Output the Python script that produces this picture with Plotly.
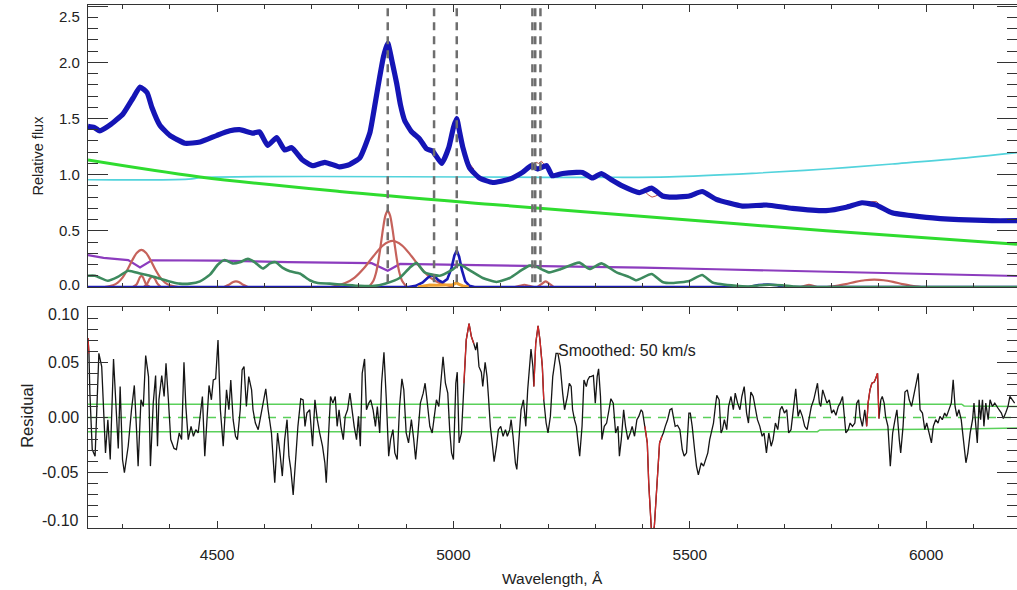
import plotly.graph_objects as go

# ---------------------------------------------------------------- data
wave_range = [4227, 6192]
wave_major = [4500, 5000, 5500, 6000]
flux_ticks = [0.0, 0.5, 1.0, 1.5, 2.0, 2.5]
resid_ticks = [0.10, 0.05, 0.00, -0.05, -0.10]

# emission-line centres marked by dashed lines (Angstrom)
line_centres = [4861, 4959, 5007, 5167, 5173, 5184]

# total model fit (wavelength, relative flux)
model_fit = [
    (4227, 1.43), (4240, 1.42), (4252, 1.39), (4273, 1.44), (4301, 1.54), (4322, 1.68),
    (4337, 1.78), (4352, 1.73), (4362, 1.60), (4379, 1.44), (4400, 1.35), (4432, 1.28),
    (4464, 1.29), (4500, 1.35), (4527, 1.39), (4548, 1.40), (4576, 1.37), (4590, 1.38),
    (4607, 1.26), (4626, 1.33), (4643, 1.22), (4658, 1.24), (4681, 1.13), (4702, 1.08),
    (4728, 1.11), (4759, 1.07), (4780, 1.09), (4802, 1.15), (4823, 1.37), (4833, 1.60),
    (4844, 1.87), (4852, 2.05), (4861, 2.17), (4871, 1.99), (4880, 1.81), (4888, 1.62),
    (4897, 1.48), (4912, 1.38), (4928, 1.32), (4943, 1.23), (4956, 1.21), (4975, 1.10),
    (4990, 1.24), (5000, 1.42), (5007, 1.50), (5013, 1.38), (5020, 1.24), (5034, 1.06),
    (5055, 0.97), (5083, 0.93), (5119, 0.96), (5146, 1.02), (5165, 1.08), (5178, 1.05),
    (5197, 1.08), (5209, 0.99), (5231, 1.01), (5260, 1.02), (5273, 1.02), (5294, 0.97),
    (5313, 1.01), (5336, 0.95), (5357, 0.90), (5393, 0.84), (5419, 0.88), (5442, 0.81),
    (5457, 0.80), (5499, 0.81), (5526, 0.85), (5556, 0.78), (5611, 0.72), (5662, 0.73),
    (5717, 0.70), (5788, 0.68), (5831, 0.71), (5864, 0.75), (5894, 0.73), (5928, 0.66),
    (6000, 0.62), (6069, 0.60), (6139, 0.59), (6192, 0.59),
]

# observed flux inside masked windows
observed_masked = [
    [(5021, 1.18), (5030, 1.12), (5043, 1.05)],
    [(5168, 1.09), (5175, 1.11), (5180, 1.10), (5186, 1.12), (5192, 1.09)],
    [(5405, 0.85), (5412, 0.82), (5420, 0.80), (5428, 0.81), (5440, 0.84)],
    [(5874, 0.75), (5885, 0.76), (5895, 0.76), (5900, 0.74)],
]

host_galaxy = [
    (4227, 0.955), (4440, 0.96), (4470, 0.975), (5300, 0.976), (5457, 0.98),
    (5647, 1.015), (5788, 1.05), (5928, 1.095), (6060, 1.14), (6192, 1.196),
]

power_law = [
    (4227, 1.13), (4464, 0.98), (4759, 0.85), (5097, 0.73), (5457, 0.61),
    (5788, 0.50), (6192, 0.38),
]

balmer_cont = [
    (4227, 0.283), (4260, 0.26), (4312, 0.24), (4337, 0.175), (4362, 0.238),
    (4502, 0.235), (4650, 0.222), (4827, 0.212), (4861, 0.145), (4887, 0.205),
    (5050, 0.195), (5214, 0.187), (5400, 0.172), (5556, 0.158), (5750, 0.14),
    (5907, 0.128), (6050, 0.112), (6192, 0.098),
]

fe_ii = [
    (4227, 0.10), (4242, 0.10), (4269, 0.055), (4290, 0.09), (4312, 0.145), (4337, 0.12),
    (4358, 0.10), (4379, 0.075), (4404, 0.045), (4421, 0.03), (4442, 0.03), (4464, 0.05),
    (4485, 0.11), (4502, 0.20), (4516, 0.24), (4533, 0.21), (4548, 0.22), (4565, 0.25),
    (4580, 0.22), (4597, 0.165), (4612, 0.21), (4624, 0.22), (4639, 0.17), (4654, 0.14),
    (4675, 0.12), (4696, 0.06), (4713, 0.035), (4738, 0.03), (4770, 0.02), (4802, 0.01),
    (4833, 0.01), (4855, 0.03), (4886, 0.08), (4907, 0.17), (4922, 0.215), (4939, 0.13),
    (4971, 0.10), (4996, 0.15), (5013, 0.20), (5034, 0.15), (5062, 0.08), (5091, 0.045),
    (5119, 0.08), (5144, 0.15), (5161, 0.19), (5176, 0.18), (5188, 0.155), (5203, 0.13),
    (5224, 0.155), (5266, 0.217), (5288, 0.16), (5313, 0.21), (5345, 0.13), (5372, 0.088),
    (5387, 0.06), (5419, 0.115), (5442, 0.045), (5463, 0.035), (5499, 0.054), (5526, 0.107),
    (5548, 0.04), (5598, 0.01), (5626, 0.005), (5647, 0.015), (5668, 0.02), (5695, 0.015),
    (5721, 0.003), (5773, 0.0), (6192, 0.0),
]

# broad / permitted line components
hg_broad = [(4262, 0.0), (4280, 0.015), (4290, 0.038), (4300, 0.083), (4310, 0.151),
            (4320, 0.233), (4330, 0.303), (4340, 0.33), (4350, 0.303), (4360, 0.233),
            (4370, 0.151), (4380, 0.083), (4390, 0.038), (4400, 0.015), (4418, 0.0)]
hg_narrow = [(4322, 0.0), (4330, 0.025), (4334, 0.06), (4337, 0.088), (4340, 0.10),
             (4343, 0.088), (4346, 0.06), (4350, 0.025), (4358, 0.0)]
line_4363 = [(4345, 0.0), (4352, 0.03), (4358, 0.075), (4363, 0.09), (4368, 0.075),
             (4374, 0.03), (4381, 0.0)]
line_4540 = [(4515, 0.0), (4525, 0.02), (4533, 0.043), (4540, 0.05), (4547, 0.043),
             (4555, 0.02), (4565, 0.0)]
hb_narrow = [(4821, 0.0), (4831, 0.058), (4836, 0.122), (4841, 0.227), (4846, 0.367),
             (4851, 0.517), (4856, 0.635), (4861, 0.68), (4866, 0.635), (4871, 0.517),
             (4876, 0.367), (4881, 0.227), (4886, 0.122), (4891, 0.058), (4901, 0.0)]
hb_broad = [(4741, 0.0), (4771, 0.035), (4791, 0.084), (4811, 0.169), (4831, 0.276),
            (4851, 0.371), (4871, 0.41), (4891, 0.371), (4911, 0.276), (4931, 0.169),
            (4951, 0.084), (4971, 0.035), (5001, 0.0)]
line_5150 = [(5130, 0.0), (5140, 0.01), (5150, 0.02), (5160, 0.01), (5170, 0.0)]
line_5195 = [(5178, 0.0), (5186, 0.025), (5195, 0.05), (5204, 0.025), (5212, 0.0)]
line_5752 = [(5735, 0.0), (5745, 0.012), (5752, 0.02), (5759, 0.012), (5769, 0.0)]
hei_5876 = [(5790, 0.0), (5810, 0.01), (5830, 0.026), (5850, 0.045), (5870, 0.06),
            (5890, 0.065), (5910, 0.06), (5930, 0.045), (5950, 0.026), (5970, 0.01),
            (5990, 0.0)]

# forbidden [O III] doublet component
oiii_lines = [
    (4227, 0.0), (4905, 0.0), (4920, 0.01), (4935, 0.04), (4945, 0.08), (4953, 0.105),
    (4960, 0.095), (4968, 0.06), (4977, 0.04), (4987, 0.07), (4996, 0.17), (5002, 0.28),
    (5007, 0.325), (5012, 0.27), (5018, 0.15), (5025, 0.05), (5034, 0.01), (5045, 0.0),
    (5625, 0.0), (5645, 0.018), (5665, 0.022), (5685, 0.015), (5700, 0.0), (6192, 0.0),
]

oiii_wing = [(4925, 0.0), (4937, 0.01), (4950, 0.018), (4965, 0.015), (4985, 0.015),
             (4998, 0.02), (5003, 0.03), (5007, 0.038), (5011, 0.025), (5020, 0.01),
             (5032, 0.0)]

# smoothed residual (data - model)
residual = [
    (4227, 0.072), (4229, 0.058), (4231, 0.022), (4236, -0.029), (4242, -0.035), (4250, 0.058),
    (4256, 0.046), (4259, 0.013), (4264, -0.032), (4269, -0.002), (4274, -0.038), (4281, 0.053),
    (4286, 0.016), (4291, -0.028), (4295, 0.028), (4300, -0.038), (4304, -0.050), (4312, -0.026),
    (4319, 0.007), (4325, 0.029), (4330, -0.014), (4333, -0.044), (4339, 0.016), (4344, 0.010),
    (4349, 0.056), (4355, 0.037), (4359, -0.044), (4365, 0.013), (4370, 0.038), (4374, -0.026),
    (4377, 0.016), (4383, 0.038), (4388, 0.019), (4392, 0.049), (4397, 0.016), (4402, -0.020),
    (4409, -0.028), (4414, -0.029), (4420, -0.014), (4425, -0.020), (4430, 0.050), (4434, 0.010),
    (4439, -0.020), (4445, -0.008), (4450, -0.017), (4455, -0.011), (4460, -0.014), (4469, 0.019),
    (4474, -0.035), (4479, 0.004), (4483, 0.029), (4488, 0.016), (4492, 0.034), (4497, 0.035),
    (4502, 0.070), (4507, 0.007), (4513, -0.026), (4520, 0.025), (4525, 0.007), (4529, 0.034),
    (4534, -0.002), (4539, -0.017), (4543, -0.020), (4549, 0.007), (4553, 0.043), (4557, 0.046),
    (4562, 0.010), (4567, 0.037), (4573, 0.025), (4576, 0.007), (4581, -0.005), (4587, -0.011),
    (4594, 0.007), (4599, 0.019), (4603, 0.026), (4608, 0.007), (4615, -0.014), (4622, -0.059),
    (4628, -0.014), (4633, -0.032), (4638, -0.053), (4643, -0.020), (4648, -0.002), (4652, -0.035),
    (4656, -0.047), (4661, -0.070), (4666, -0.038), (4671, -0.008), (4677, 0.017), (4682, 0.016),
    (4686, -0.008), (4690, 0.004), (4696, 0.007), (4702, -0.026), (4707, 0.016), (4712, -0.002),
    (4717, -0.014), (4723, -0.026), (4728, -0.041), (4731, -0.059), (4736, -0.014), (4740, 0.019),
    (4745, 0.013), (4750, 0.019), (4754, -0.008), (4758, 0.007), (4762, -0.008), (4767, -0.020),
    (4771, 0.001), (4776, 0.007), (4781, 0.022), (4786, 0.004), (4790, -0.008), (4795, -0.020),
    (4799, 0.001), (4803, -0.026), (4807, 0.040), (4812, 0.053), (4816, 0.007), (4821, 0.013),
    (4825, 0.016), (4830, 0.007), (4835, -0.008), (4839, 0.010), (4844, -0.014), (4848, 0.031),
    (4853, 0.059), (4858, 0.016), (4863, -0.035), (4867, -0.020), (4872, -0.011), (4876, -0.032),
    (4881, -0.038), (4886, 0.010), (4891, 0.035), (4895, 0.025), (4900, -0.014), (4905, -0.023),
    (4911, -0.002), (4916, -0.020), (4920, -0.038), (4925, -0.014), (4930, 0.013), (4936, 0.022),
    (4940, 0.031), (4944, 0.016), (4950, -0.008), (4955, -0.014), (4960, 0.004), (4964, 0.016),
    (4969, 0.010), (4972, 0.028), (4978, 0.055), (4983, 0.031), (4988, 0.022), (4992, -0.011),
    (4996, -0.032), (5000, -0.038), (5005, 0.031), (5008, 0.041), (5012, -0.023), (5017, -0.014),
    (5022, 0.031), (5027, 0.070), (5033, 0.085), (5038, 0.073), (5043, 0.067), (5047, 0.061),
    (5050, 0.068), (5054, 0.046), (5059, 0.041), (5062, 0.028), (5067, 0.050), (5071, 0.037),
    (5074, 0.019), (5078, -0.008), (5082, -0.023), (5086, -0.040), (5091, -0.026), (5095, -0.011),
    (5100, -0.008), (5105, -0.017), (5110, -0.011), (5114, -0.017), (5119, -0.011), (5122, -0.002),
    (5126, -0.017), (5131, -0.041), (5134, -0.047), (5138, -0.026), (5143, 0.007), (5148, 0.016),
    (5153, -0.008), (5157, 0.025), (5161, 0.046), (5164, 0.062), (5168, 0.046), (5170, 0.028),
    (5174, 0.067), (5179, 0.083), (5183, 0.070), (5188, 0.046), (5191, 0.016), (5196, -0.005),
    (5200, -0.014), (5205, 0.001), (5210, 0.037), (5217, 0.058), (5221, 0.058), (5226, 0.046),
    (5231, 0.022), (5235, 0.007), (5241, 0.019), (5245, 0.031), (5249, 0.028), (5252, 0.007),
    (5256, -0.002), (5260, -0.008), (5263, -0.020), (5267, -0.035), (5272, -0.008), (5276, 0.034),
    (5281, 0.028), (5284, 0.034), (5288, 0.037), (5291, 0.037), (5296, 0.038), (5300, 0.013),
    (5304, 0.037), (5307, 0.044), (5311, 0.019), (5314, -0.020), (5319, -0.008), (5324, -0.005),
    (5329, 0.007), (5333, 0.017), (5338, 0.013), (5343, -0.014), (5348, -0.008), (5351, -0.035),
    (5355, -0.020), (5360, 0.007), (5364, -0.008), (5369, -0.020), (5374, -0.014), (5378, -0.008),
    (5383, -0.017), (5388, -0.002), (5392, 0.001), (5397, 0.007), (5400, 0.005), (5405, -0.008),
    (5410, -0.023), (5413, -0.059), (5417, -0.098), (5420, -0.112), (5425, -0.098), (5429, -0.074),
    (5432, -0.047), (5436, -0.023), (5441, -0.017), (5444, -0.014), (5448, -0.008), (5453, -0.002),
    (5458, 0.007), (5462, 0.008), (5465, 0.001), (5469, -0.008), (5474, -0.007), (5479, -0.011),
    (5484, -0.029), (5488, -0.035), (5493, -0.032), (5498, 0.004), (5501, 0.004), (5505, -0.008),
    (5510, -0.029), (5514, -0.044), (5518, -0.052), (5524, -0.041), (5529, -0.044), (5533, -0.038),
    (5538, -0.032), (5542, -0.020), (5546, -0.011), (5550, -0.005), (5554, 0.010), (5557, 0.020),
    (5562, 0.016), (5566, -0.014), (5569, -0.011), (5573, -0.002), (5578, -0.011), (5582, 0.010),
    (5587, 0.019), (5592, 0.007), (5596, 0.022), (5601, 0.013), (5606, 0.007), (5610, 0.019),
    (5615, 0.028), (5620, 0.004), (5624, -0.005), (5629, 0.023), (5634, 0.019), (5638, 0.010),
    (5643, -0.002), (5648, -0.008), (5653, -0.017), (5657, -0.014), (5662, -0.032), (5667, -0.014),
    (5672, -0.026), (5676, -0.020), (5681, -0.005), (5686, -0.011), (5691, 0.007), (5695, 0.010),
    (5700, 0.004), (5705, 0.007), (5709, -0.014), (5714, -0.011), (5721, 0.016), (5724, 0.026),
    (5729, 0.001), (5733, 0.007), (5738, 0.001), (5743, -0.008), (5748, -0.011), (5753, 0.001),
    (5757, 0.010), (5762, 0.016), (5767, 0.025), (5770, 0.031), (5774, 0.013), (5777, 0.010),
    (5781, 0.025), (5786, 0.019), (5790, 0.013), (5795, 0.016), (5800, 0.004), (5804, 0.007),
    (5809, 0.002), (5814, 0.010), (5818, 0.013), (5823, 0.019), (5826, 0.007), (5830, -0.014),
    (5835, -0.011), (5839, -0.005), (5844, -0.008), (5849, -0.005), (5853, 0.013), (5857, 0.016),
    (5860, 0.001), (5865, -0.008), (5870, 0.007), (5874, -0.008), (5877, 0.013), (5881, 0.025),
    (5885, 0.031), (5890, 0.032), (5893, 0.035), (5897, 0.040), (5900, -0.001), (5904, 0.016),
    (5907, 0.019), (5911, 0.013), (5914, 0.001), (5919, -0.008), (5924, -0.044), (5929, -0.014),
    (5934, -0.002), (5938, 0.007), (5943, -0.020), (5946, -0.032), (5951, -0.008), (5955, 0.023),
    (5960, 0.025), (5964, 0.016), (5969, 0.010), (5972, 0.016), (5978, 0.031), (5983, 0.040),
    (5987, 0.007), (5992, 0.004), (5997, -0.011), (6001, -0.005), (6006, -0.014), (6011, -0.023),
    (6015, -0.008), (6020, -0.002), (6025, -0.005), (6029, 0.001), (6034, -0.002), (6039, 0.004),
    (6043, 0.001), (6048, 0.007), (6053, 0.013), (6057, 0.034), (6061, 0.010), (6065, 0.001),
    (6069, 0.007), (6074, -0.002), (6079, -0.020), (6084, -0.041), (6088, -0.032), (6093, -0.014),
    (6098, -0.002), (6101, 0.013), (6105, -0.008), (6108, -0.023), (6112, 0.016), (6115, -0.002),
    (6119, 0.016), (6122, -0.008), (6126, 0.013), (6131, -0.002), (6135, 0.016), (6140, 0.010),
    (6145, 0.013), (6149, 0.010), (6154, 0.007), (6159, 0.004), (6163, -0.001), (6168, 0.004),
    (6173, 0.010), (6177, 0.019), (6182, 0.016), (6187, 0.013),
]

# wavelength windows excluded from the fit
masked_windows = [(4227, 4229), (5022, 5043), (5170, 5191), (5405, 5441), (5874, 5900)]

# running rms of the residual
rms_upper = [(4227, 0.012), (6075, 0.012), (6080, 0.0105), (6192, 0.010)]
rms_lower = [(4227, -0.0128), (5770, -0.0128), (5775, -0.0113), (6080, -0.0105), (6192, -0.0095)]

smoothing_label = "Smoothed: 50 km/s"

# ---------------------------------------------------------------- styles
FONT = "Liberation Sans, Arial, Helvetica, sans-serif"
INK = "#222222"
AXIS = "#333333"
BROAD_RED = "#c6625b"


def unzip(pairs):
    xs, ys = zip(*pairs)
    return list(xs), list(ys)


fig = go.Figure()


def add_line(pairs, color, width, row=1, shape="linear", smoothing=None, dash=None):
    xs, ys = unzip(pairs)
    line = dict(color=color, width=width, shape=shape, dash=dash)
    if smoothing is not None:
        line["smoothing"] = smoothing
    fig.add_trace(go.Scatter(
        x=xs, y=ys, mode="lines", line=line, hoverinfo="skip", showlegend=False,
        xaxis="x" if row == 1 else "x2", yaxis="y" if row == 1 else "y2",
    ))


# ---- upper panel: decomposition
add_line(host_galaxy, "#52d3dc", 1.6, shape="spline")
add_line(power_law, "#2fdc2f", 3.0, shape="spline")
add_line(balmer_cont, "#8c3cbe", 2.2)
for comp in (hg_broad, hg_narrow, line_4363, line_4540, hb_broad, hb_narrow,
             line_5150, line_5195, line_5752, hei_5876):
    add_line(comp, BROAD_RED, 2.2, shape="spline", smoothing=0.8)
add_line(oiii_lines, "#1a1ab4", 2.6)
add_line(fe_ii, "#3d8a5e", 2.6, shape="spline", smoothing=0.5)
add_line(oiii_wing, "#f0a030", 3.0)
for seg in observed_masked:
    add_line(seg, "#c0504a", 1.0)
add_line(model_fit, "#1515b5", 5.2, shape="spline", smoothing=0.45)

# ---- lower panel: residuals
add_line(rms_upper, "#5ad05a", 1.5, row=2)
add_line(rms_lower, "#5ad05a", 1.5, row=2)
add_line([(wave_range[0], 0.0), (wave_range[1], 0.0)], "#5ad05a", 1.3, row=2, dash="8px,7px")
add_line(residual, "#151515", 1.3, row=2)

# masked parts of the residual drawn in red on top
for lo, hi in masked_windows:
    seg = [(w, v) for w, v in residual if lo <= w <= hi]
    if len(seg) > 1:
        add_line(seg, "#d02828", 1.3, row=2)

# dashed markers at line centres
shapes = []
for lc in line_centres:
    shapes.append(dict(type="line", xref="x", yref="y", x0=lc, x1=lc, y0=2.48, y1=0.0,
                       line=dict(color="#6e6e6e", width=2.5, dash="8px,6px"), layer="above"))

# ---------------------------------------------------------------- axes
axis_common = dict(showline=True, linecolor=AXIS, linewidth=1.2, mirror="allticks",
                   ticks="inside", tickcolor=AXIS, tickwidth=1.2, showgrid=False,
                   zeroline=False)

xaxis_common = dict(axis_common, range=wave_range, tickmode="array", tickvals=wave_major,
                    ticklen=7,
                    minor=dict(tickmode="linear", tick0=4200, dtick=100, ticklen=3.5,
                               ticks="inside", tickcolor=AXIS, tickwidth=1.0, showgrid=False))

fig.update_layout(
    width=1017, height=590,
    margin=dict(l=88, r=0, t=5, b=62),
    paper_bgcolor="white", plot_bgcolor="white",
    showlegend=False,
    font=dict(family=FONT, color=INK, size=15),
    xaxis=dict(xaxis_common, domain=[0, 1], anchor="y", showticklabels=False),
    yaxis=dict(axis_common, domain=[0.4608, 1], anchor="x", range=[0, 2.51],
               tickmode="linear", tick0=0, dtick=0.5, ticklen=20, showticklabels=False,
               minor=dict(tickmode="linear", tick0=0, dtick=0.1, ticklen=10,
                          ticks="inside", tickcolor=AXIS, tickwidth=1.0, showgrid=False)),
    xaxis2=dict(xaxis_common, domain=[0, 1], anchor="y2", matches="x",
                showticklabels=True, ticktext=[str(w) for w in wave_major],
                tickfont=dict(size=15.5, family=FONT, color=INK), ticklabelstandoff=12),
    yaxis2=dict(axis_common, domain=[0, 0.4226], anchor="x2", range=[-0.1, 0.1],
                tickmode="linear", tick0=-0.1, dtick=0.05, ticklen=20, showticklabels=False,
                minor=dict(tickmode="linear", tick0=-0.1, dtick=0.01, ticklen=10,
                           ticks="inside", tickcolor=AXIS, tickwidth=1.0, showgrid=False)),
    shapes=shapes,
)

annotations = []
# y tick labels, nudged inward at the ends of each axis
for v in flux_ticks:
    shift = -10 if v == max(flux_ticks) else (3 if v == min(flux_ticks) else 0)
    annotations.append(dict(xref="paper", x=0, xanchor="right", xshift=-6,
                            yref="y", y=v, yanchor="middle", yshift=shift,
                            text=f"{v:.1f}", showarrow=False,
                            font=dict(size=15, family=FONT, color=INK)))
for v in resid_ticks:
    shift = -8 if v == max(resid_ticks) else (8 if v == min(resid_ticks) else 0)
    annotations.append(dict(xref="paper", x=0, xanchor="right", xshift=-7,
                            yref="y2", y=v, yanchor="middle", yshift=shift,
                            text=f"{v:.2f}", showarrow=False,
                            font=dict(size=16, family=FONT, color=INK)))

annotations += [
    dict(xref="paper", x=0, xshift=-50, yref="y", y=1.17, text="Relative flux",
         textangle=-90, showarrow=False, xanchor="center", yanchor="middle",
         font=dict(size=14.5, family=FONT, color=INK)),
    dict(xref="paper", x=0, xshift=-61, yref="y2", y=0.0015, text="Residual",
         textangle=-90, showarrow=False, xanchor="center", yanchor="middle",
         font=dict(size=16.5, family=FONT, color=INK)),
    dict(xref="paper", x=0.5, yref="paper", y=0, yshift=-50, text="Wavelength, Å",
         showarrow=False, xanchor="center", yanchor="middle",
         font=dict(size=15.5, family=FONT, color=INK)),
    dict(xref="x2", x=5217, yref="y2", y=0.061, text=smoothing_label,
         showarrow=False, xanchor="left", yanchor="middle",
         font=dict(size=16, family=FONT, color=INK)),
]
fig.update_layout(annotations=annotations)

fig.write_html("out.html")
